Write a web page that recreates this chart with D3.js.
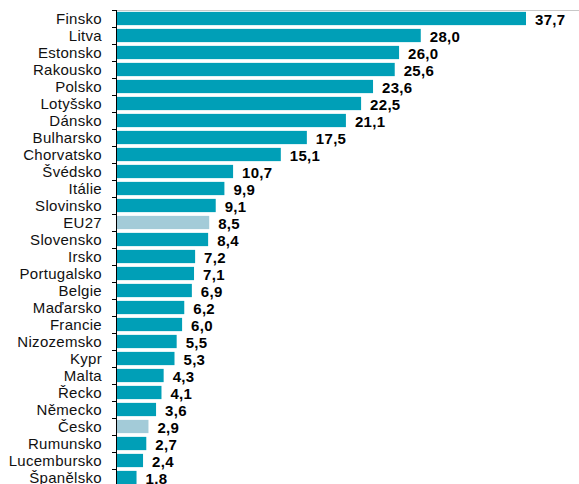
<!DOCTYPE html>
<html>
<head>
<meta charset="utf-8">
<script src="https://cdn.jsdelivr.net/npm/d3@7"></script>
<style>
  body { margin: 0; background: #fff; }
  svg { display: block; font-family: "Liberation Sans", Arial, sans-serif; }
</style>
</head>
<body>
<div id="chart"></div>
<script>
const countries = ["Finsko", "Litva", "Estonsko", "Rakousko", "Polsko", "Lotyšsko", "Dánsko",
  "Bulharsko", "Chorvatsko", "Švédsko", "Itálie", "Slovinsko", "EU27", "Slovensko", "Irsko",
  "Portugalsko", "Belgie", "Maďarsko", "Francie", "Nizozemsko", "Kypr", "Malta", "Řecko",
  "Německo", "Česko", "Rumunsko", "Lucembursko", "Španělsko"];
const values = [37.7, 28.0, 26.0, 25.6, 23.6, 22.5, 21.1, 17.5, 15.1, 10.7, 9.9, 9.1, 8.5, 8.4,
  7.2, 7.1, 6.9, 6.2, 6.0, 5.5, 5.3, 4.3, 4.1, 3.6, 2.9, 2.7, 2.4, 1.8];
const highlighted = ["EU27", "Česko"];

const data = countries.map((c, i) => ({ name: c, value: values[i] }));

const width = 579;
const height = 484;
const marginTop = 10;
const marginLeft = 117;
const marginBottom = -2;

const x = d3.scaleLinear()
    .domain([0, 37.7])
    .range([marginLeft, 526]);

const y = d3.scaleBand()
    .domain(countries)
    .range([marginTop, height - marginBottom])
    .paddingInner(0.22)
    .paddingOuter(0.11);

const svg = d3.select("#chart").append("svg")
    .attr("width", width)
    .attr("height", height);

// top grid line
svg.append("line")
    .attr("x1", marginLeft).attr("x2", width)
    .attr("y1", marginTop + 0.5).attr("y2", marginTop + 0.5)
    .attr("stroke", "#c8c8c8");

svg.append("g")
    .selectAll("rect")
    .data(data)
    .join("rect")
    .attr("x", x(0))
    .attr("y", d => y(d.name))
    .attr("width", d => x(d.value) - x(0))
    .attr("height", y.bandwidth())
    .attr("fill", d => highlighted.includes(d.name) ? "#a3cbd8" : "#009fb7");

// left axis with ticks at band boundaries
const axis = svg.append("g");
axis.append("line")
    .attr("x1", marginLeft - 0.5).attr("x2", marginLeft - 0.5)
    .attr("y1", marginTop).attr("y2", height)
    .attr("stroke", "#000");
const step = y.step();
axis.selectAll(".tick")
    .data(d3.range(countries.length + 1))
    .join("line")
    .attr("x1", marginLeft - 5).attr("x2", marginLeft)
    .attr("y1", i => Math.round(marginTop + i * step) + 0.5)
    .attr("y2", i => Math.round(marginTop + i * step) + 0.5)
    .attr("stroke", "#000");

axis.selectAll("text")
    .data(data)
    .join("text")
    .attr("x", 102)
    .attr("y", d => y(d.name) + y.bandwidth() / 2)
    .attr("dy", "0.35em")
    .attr("text-anchor", "end")
    .attr("font-size", 15)
    .attr("letter-spacing", 0.3)
    .attr("fill", "#111")
    .text(d => d.name);

svg.append("g")
    .selectAll("text")
    .data(data)
    .join("text")
    .attr("x", d => x(d.value) + 9)
    .attr("y", d => y(d.name) + y.bandwidth() / 2 + 1)
    .attr("dy", "0.35em")
    .attr("font-size", 15)
    .attr("letter-spacing", 0.3)
    .attr("font-weight", "bold")
    .attr("fill", "#000")
    .text(d => d3.format(".1f")(d.value).replace(".", ","));
</script>
</body>
</html>
